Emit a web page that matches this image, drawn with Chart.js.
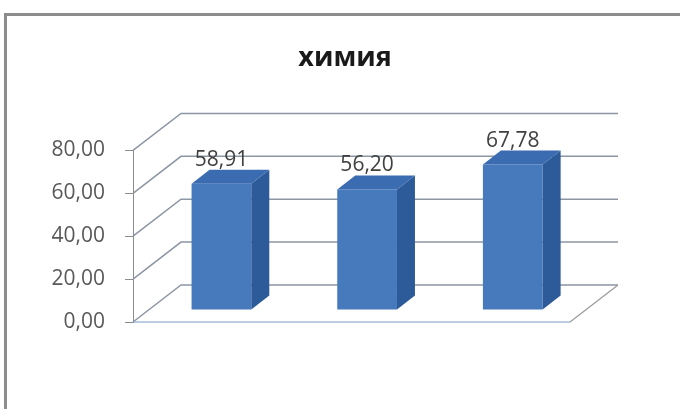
<!DOCTYPE html>
<html>
<head>
<meta charset="utf-8">
<script src="https://cdn.jsdelivr.net/npm/chart.js@4.4.1/dist/chart.umd.min.js"></script>
<style>
  body { margin: 0; background: #fff; }
  #wrap { position: relative; width: 680px; height: 409px; overflow: hidden; }
  #wrap canvas { position: absolute; left: 0; top: 0; }
  #frame { position: absolute; left: 4px; top: 13px; width: 700px; height: 420px;
           border-top: 3px solid #8c8c8c; border-left: 3px solid #8c8c8c; pointer-events: none; }
</style>
</head>
<body>
<div id="wrap">
  <canvas id="chart" width="680" height="409"></canvas>
  <div id="frame"></div>
</div>
<script>
const chartTitle = 'химия';
const categories = ['1', '2', '3'];
const values = [58.91, 56.20, 67.78];
const yTicks = [0, 20, 40, 60, 80];

// fake 3D depth
const wallDx = 48, wallDy = -37;
const barShiftX = 15.6, barShiftY = -12;
const barDepthX = 18, barDepthY = -14;

const fmt = v => v.toFixed(2).replace('.', ',');

const depth3d = {
  id: 'depth3d',
  beforeDatasetsDraw(chart) {
    const { ctx, chartArea: a, scales: { y } } = chart;
    ctx.save();
    ctx.lineWidth = 1.5;
    ctx.strokeStyle = '#8d96a3';
    y.ticks.forEach(t => {
      const py = y.getPixelForValue(t.value);
      ctx.beginPath();
      ctx.moveTo(a.left, py);
      ctx.lineTo(a.left + wallDx, py + wallDy);
      ctx.lineTo(a.right + wallDx, py + wallDy);
      ctx.stroke();
    });
    // floor
    ctx.lineWidth = 1.2;
    ctx.strokeStyle = '#7d9bc4';
    ctx.beginPath();
    ctx.moveTo(a.left, a.bottom);
    ctx.lineTo(a.right, a.bottom);
    ctx.stroke();
    ctx.strokeStyle = '#9a9a9a';
    ctx.beginPath();
    ctx.moveTo(a.right, a.bottom);
    ctx.lineTo(a.right + wallDx, a.bottom + wallDy);
    ctx.stroke();
    ctx.restore();
  },
  beforeDatasetDraw(chart) {
    chart.ctx.save();
    chart.ctx.translate(barShiftX, barShiftY);
  },
  afterDatasetDraw(chart, args) {
    const ctx = chart.ctx;
    args.meta.data.forEach((bar, i) => {
      const { x, y, base, width } = bar.getProps(['x', 'y', 'base', 'width'], true);
      const l = x - width / 2, r = x + width / 2;
      ctx.fillStyle = '#2d5a99';
      ctx.beginPath();
      ctx.moveTo(r, y);
      ctx.lineTo(r + barDepthX, y + barDepthY);
      ctx.lineTo(r + barDepthX, base + barDepthY);
      ctx.lineTo(r, base);
      ctx.closePath();
      ctx.fill();
      ctx.fillStyle = '#3b6bb0';
      ctx.beginPath();
      ctx.moveTo(l, y);
      ctx.lineTo(l + barDepthX, y + barDepthY);
      ctx.lineTo(r + barDepthX, y + barDepthY);
      ctx.lineTo(r, y);
      ctx.closePath();
      ctx.fill();
      ctx.fillStyle = '#404040';
      ctx.font = '21px "Open Sans"';
      ctx.textAlign = 'center';
      ctx.textBaseline = 'alphabetic';
      ctx.fillText(fmt(values[i]), x, y + barDepthY - 4);
    });
    ctx.restore();
  }
};

const frontFill = c => {
  const el = c.element;
  if (!el || !Number.isFinite(el.x) || !Number.isFinite(el.width)) return '#4779bd';
  const g = c.chart.ctx.createLinearGradient(el.x - el.width / 2, 0, el.x + el.width / 2, 0);
  g.addColorStop(0, '#3e6db2');
  g.addColorStop(0.45, '#4e83c6');
  g.addColorStop(1, '#3c6aad');
  return g;
};

new Chart(document.getElementById('chart'), {
  type: 'bar',
  data: {
    labels: categories,
    datasets: [{
      label: chartTitle,
      data: values,
      backgroundColor: frontFill,
      borderWidth: 0,
      barPercentage: 0.41,
      categoryPercentage: 1
    }]
  },
  options: {
    responsive: false,
    animation: false,
    layout: { padding: { top: 0, left: 10, right: 0, bottom: 87 } },
    plugins: {
      legend: { display: false },
      tooltip: { enabled: false },
      title: {
        display: true,
        text: chartTitle,
        color: '#1a1a1a',
        font: { family: '"Open Sans"', size: 27, weight: 'bold' },
        padding: { top: 42, bottom: 76 }
      }
    },
    scales: {
      x: { display: false },
      y: {
        min: 0,
        max: 80,
        afterBuildTicks: s => { s.ticks = yTicks.map(v => ({ value: v })); },
        afterFit: s => { s.width = 123; },
        grid: { drawOnChartArea: false, drawTicks: true, tickLength: 8, color: '#8c8c8c' },
        border: { display: true, color: '#8c8c8c', width: 1 },
        ticks: {
          padding: 20,
          color: '#595959',
          font: { family: '"Open Sans"', size: 21 },
          callback: v => fmt(v)
        }
      },
      y2: {
        position: 'right',
        display: true,
        grid: { display: false },
        border: { display: false },
        ticks: { display: false },
        afterFit: s => { s.width = 110; }
      }
    }
  },
  plugins: [depth3d]
});
</script>
</body>
</html>
